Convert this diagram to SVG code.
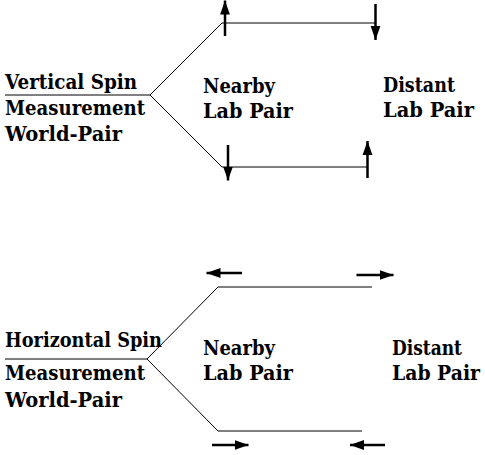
<svg xmlns="http://www.w3.org/2000/svg" width="485" height="455" viewBox="0 0 485 455">
<style>
.t{font-family:'DejaVu Serif',serif;font-weight:700;font-size:21px;fill:#000}
.ln{stroke:#000;stroke-width:1;fill:none}
.ar{stroke:#000;stroke-width:2.5;fill:none;marker-end:url(#ah)}
</style>
<defs>
<marker id="ah" markerUnits="userSpaceOnUse" markerWidth="14" markerHeight="12" refX="12" refY="5" orient="auto" viewBox="0 0 12 10">
<path d="M0,0.8 L12,5 L0,9.2 Z" fill="#000"/>
</marker>
</defs>
<rect width="485" height="455" fill="#fff"/>
<g id="connectors">
<path class="ln" d="M5,95 H150 L222,23 H375 M150,95 L222,167 H367"/>
<path class="ln" d="M5,359 H147 L218,287 H372 M147,359 L218,431 H362"/>
<line class="ar" x1="225" y1="36" x2="225" y2="0.5"/>
<line class="ar" x1="375.5" y1="4" x2="375.5" y2="40"/>
<line class="ar" x1="228" y1="145" x2="228" y2="180.5"/>
<line class="ar" x1="367.5" y1="178" x2="367.5" y2="141"/>
<line class="ar" x1="242" y1="273" x2="206.5" y2="273"/>
<line class="ar" x1="356.5" y1="275" x2="393.5" y2="275"/>
<line class="ar" x1="212" y1="445" x2="248.5" y2="445"/>
<line class="ar" x1="385" y1="445" x2="350" y2="445"/>
</g>
<g id="vertical-world-pair" class="t">
<text x="5" y="88.5" textLength="132" lengthAdjust="spacingAndGlyphs">Vertical Spin</text>
<text x="5" y="115" textLength="140" lengthAdjust="spacingAndGlyphs">Measurement</text>
<text x="5" y="141" textLength="117" lengthAdjust="spacingAndGlyphs">World-Pair</text>
</g>
<g id="vertical-nearby" class="t">
<text x="203" y="92.5" textLength="72" lengthAdjust="spacingAndGlyphs">Nearby</text>
<text x="203" y="118" textLength="90" lengthAdjust="spacingAndGlyphs">Lab Pair</text>
</g>
<g id="vertical-distant" class="t">
<text x="383" y="92" textLength="72" lengthAdjust="spacingAndGlyphs">Distant</text>
<text x="383" y="116.5" textLength="91" lengthAdjust="spacingAndGlyphs">Lab Pair</text>
</g>
<g id="horizontal-world-pair" class="t">
<text x="5" y="347" textLength="157" lengthAdjust="spacingAndGlyphs">Horizontal Spin</text>
<text x="5" y="380" textLength="140" lengthAdjust="spacingAndGlyphs">Measurement</text>
<text x="5" y="406.5" textLength="117" lengthAdjust="spacingAndGlyphs">World-Pair</text>
</g>
<g id="horizontal-nearby" class="t">
<text x="203" y="355" textLength="72" lengthAdjust="spacingAndGlyphs">Nearby</text>
<text x="203" y="380" textLength="90" lengthAdjust="spacingAndGlyphs">Lab Pair</text>
</g>
<g id="horizontal-distant" class="t">
<text x="392" y="355" textLength="70" lengthAdjust="spacingAndGlyphs">Distant</text>
<text transform="translate(392,380) scale(0.85,1)" x="0" y="0" textLength="103.5" lengthAdjust="spacingAndGlyphs">Lab Pair</text>
</g>
</svg>
